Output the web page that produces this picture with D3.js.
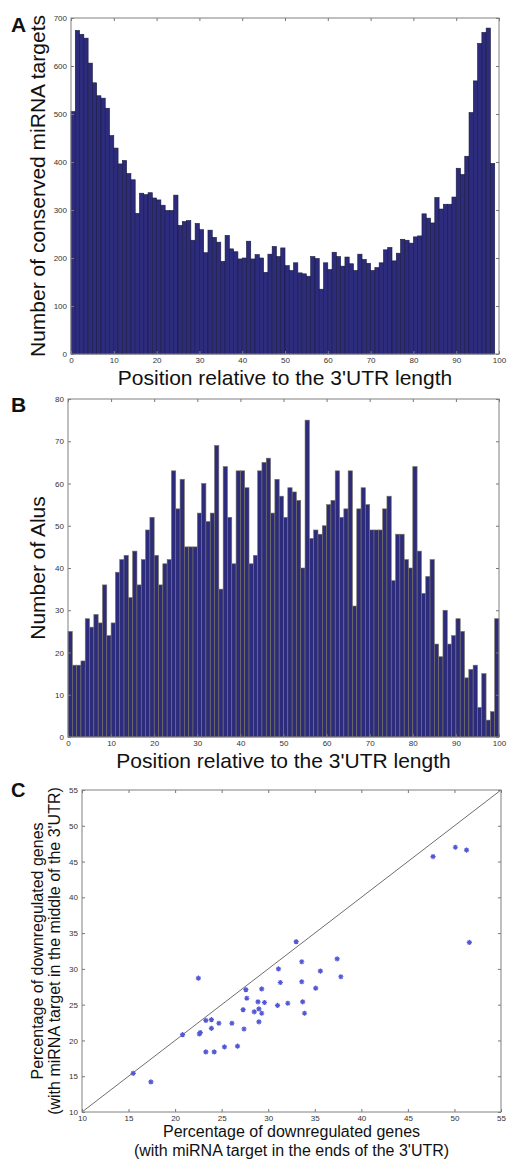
<!DOCTYPE html>
<html>
<head>
<meta charset="utf-8">
<script src="https://cdnjs.cloudflare.com/ajax/libs/d3/7.8.5/d3.min.js"></script>
<style>
  body { margin: 0; background: #fff; }
  svg { display: block; font-family: "Liberation Sans", Arial, sans-serif; }
  .tick text { font-size: 8px; fill: #333; }
  .tick line { stroke: #777; }
</style>
</head>
<body>
<div id="chart"></div>
<script>
// A: conserved miRNA targets per 1% bin of the 3'UTR (last bin is empty)
const aCounts = [
  505, 674, 666, 658, 606, 565, 538, 533, 512, 455,
  429, 396, 403, 376, 363, 293, 335, 332, 336, 325,
  321, 310, 299, 299, 331, 268, 276, 278, 237, 272,
  259, 211, 258, 243, 233, 193, 247, 219, 213, 198,
  200, 235, 198, 207, 200, 170, 208, 224, 203, 221,
  184, 174, 190, 169, 167, 162, 203, 199, 135, 190,
  176, 212, 203, 183, 202, 188, 174, 208, 197, 189,
  174, 180, 190, 217, 222, 194, 210, 239, 237, 231,
  244, 246, 292, 283, 273, 326, 302, 312, 312, 327,
  387, 374, 412, 503, 569, 647, 670, 679, 397
];

// B: Alus per 1% bin
const bCounts = [
  25, 17, 17, 18, 28, 26, 29, 27, 36, 24,
  27, 39, 42, 43, 33, 44, 36, 42, 49, 52,
  43, 36, 41, 42, 63, 54, 61, 45, 45, 45,
  53, 60, 51, 53, 69, 35, 64, 52, 41, 63,
  63, 59, 41, 43, 63, 65, 66, 53, 61, 57,
  52, 59, 58, 56, 40, 75, 47, 49, 48, 50,
  55, 56, 63, 52, 54, 63, 31, 54, 59, 55,
  49, 49, 49, 54, 57, 37, 48, 48, 42, 40,
  64, 44, 34, 38, 42, 22, 19, 30, 22, 24,
  28, 25, 14, 16, 17, 7, 15, 4, 6, 28
];

// C: % downregulated, target at the ends vs in the middle
const cEnds = [
  15.5, 17.4, 20.8, 22.5, 22.6, 22.7, 23.3, 23.3, 23.9, 23.9,
  24.2, 24.7, 25.3, 26.1, 26.7, 27.3, 27.4, 27.6, 27.7, 28.5,
  28.9, 29.0, 29.0, 29.3, 29.3, 29.6, 31.0, 31.1, 31.3, 32.1,
  33.0, 33.6, 33.6, 33.7, 33.9, 35.1, 35.6, 37.4, 37.8, 47.7,
  50.1, 51.3, 51.6
];
const cMiddle = [
  15.4, 14.2, 20.8, 28.7, 20.9, 21.1, 22.8, 18.4, 22.9, 21.7,
  18.4, 22.4, 19.1, 22.4, 19.2, 24.3, 21.6, 27.1, 25.9, 24.0,
  25.4, 24.4, 22.6, 23.8, 27.2, 25.3, 24.9, 30.0, 28.1, 25.2,
  33.8, 31.0, 28.2, 25.4, 23.8, 27.3, 29.7, 31.4, 28.9, 45.7,
  47.0, 46.6, 33.7
];
const diagonal = [10, 55];

const posTicks = d3.range(0, 101, 10);
const aTicks = d3.range(0, 701, 100);
const bTicks = d3.range(0, 81, 10);
const cTicks = d3.range(10, 56, 5);

const posLabel = "Position relative to the 3'UTR length";

const barFill = '#2d2c7c';
const boxColor = '#808080';

const svg = d3.select('#chart').append('svg')
  .attr('width', 507)
  .attr('height', 1163);

svg.append('rect').attr('width', 507).attr('height', 1163).attr('fill', '#fff');

function drawAxes(g, x, y, xTicks, yTicks, box) {
  g.append('g')
    .attr('transform', `translate(0,${box.bottom})`)
    .call(d3.axisBottom(x).tickValues(xTicks).tickSize(-3).tickSizeOuter(0).tickPadding(3));
  g.append('g')
    .attr('transform', `translate(0,${box.top})`)
    .call(d3.axisTop(x).tickValues(xTicks).tickSize(-3).tickSizeOuter(0).tickFormat(''));
  g.append('g')
    .attr('transform', `translate(${box.left},0)`)
    .call(d3.axisLeft(y).tickValues(yTicks).tickSize(-3).tickSizeOuter(0).tickPadding(4));
  g.append('g')
    .attr('transform', `translate(${box.right},0)`)
    .call(d3.axisRight(y).tickValues(yTicks).tickSize(-3).tickSizeOuter(0).tickFormat(''));

  g.selectAll('.domain').remove();

  g.append('rect')
    .attr('x', box.left)
    .attr('y', box.top)
    .attr('width', box.right - box.left)
    .attr('height', box.bottom - box.top)
    .attr('fill', 'none')
    .attr('stroke', boxColor)
    .attr('stroke-width', 1);
}

function drawHist(counts, maxY, yTicks, box, edge) {
  const g = svg.append('g');
  const x = d3.scaleLinear().domain([0, 100]).range([box.left, box.right]);
  const y = d3.scaleLinear().domain([0, maxY]).range([box.bottom, box.top]);

  g.selectAll('.bar')
    .data(counts)
    .enter().append('rect')
    .attr('class', 'bar')
    .attr('x', (d, i) => x(i))
    .attr('width', (d, i) => x(i + 1) - x(i))
    .attr('y', d => y(d))
    .attr('height', d => y(0) - y(d))
    .attr('fill', barFill)
    .attr('stroke', edge)
    .attr('stroke-width', 0.6);

  drawAxes(g, x, y, posTicks, yTicks, box);
  return g;
}

function label(txt, x, y, size, rotate, weight) {
  svg.append('text')
    .text(txt)
    .attr('text-anchor', rotate ? 'middle' : (weight ? 'start' : 'middle'))
    .attr('font-size', size)
    .attr('font-weight', weight || 'normal')
    .attr('fill', '#111')
    .attr('transform', `translate(${x},${y})` + (rotate ? ' rotate(-90)' : ''));
}

// panel A
const aBox = {left: 71, right: 499, top: 18, bottom: 354};
drawHist(aCounts, 700, aTicks, aBox, '#1a1a40');
label('A', 11, 32, 21, false, 'bold');
label('Number of conserved miRNA targets', 45, (aBox.top + aBox.bottom) / 2, 21, true);
label(posLabel, (aBox.left + aBox.right) / 2, 385, 21);

// panel B
const bBox = {left: 68, right: 499, top: 399, bottom: 737};
drawHist(bCounts, 80, bTicks, bBox, '#77735c');
label('B', 11, 412, 21, false, 'bold');
label('Number of Alus', 45, (bBox.top + bBox.bottom) / 2, 21, true);
label(posLabel, (bBox.left + bBox.right) / 2, 768, 21);

// panel C
const cBox = {left: 82, right: 501, top: 790, bottom: 1112};
const cx = d3.scaleLinear().domain([10, 55]).range([cBox.left, cBox.right]);
const cy = d3.scaleLinear().domain([10, 55]).range([cBox.bottom, cBox.top]);
const gc = svg.append('g');

gc.append('path')
  .datum(diagonal)
  .attr('d', d3.line().x(d => cx(d)).y(d => cy(d)))
  .attr('stroke', '#6e6e6e')
  .attr('stroke-width', 1)
  .attr('fill', 'none');

// matlab style '*' marker
const r = 2.6;
const star = `M${-r},0L${r},0M0,${-r}L0,${r}` +
  `M${-r * 0.7},${-r * 0.7}L${r * 0.7},${r * 0.7}M${-r * 0.7},${r * 0.7}L${r * 0.7},${-r * 0.7}`;

gc.selectAll('.pt')
  .data(cEnds)
  .enter().append('path')
  .attr('class', 'pt')
  .attr('d', star)
  .attr('transform', (d, i) => `translate(${cx(d)},${cy(cMiddle[i])})`)
  .attr('stroke', '#5257d4')
  .attr('stroke-width', 1.2)
  .attr('fill', 'none');

drawAxes(gc, cx, cy, cTicks, cTicks, cBox);

label('C', 11, 797, 20, false, 'bold');
label('Percentage of downregulated genes', 43, (cBox.top + cBox.bottom) / 2, 16, true);
label("(with miRNA target in the middle of the 3'UTR)", 60, (cBox.top + cBox.bottom) / 2, 16, true);
label('Percentage of downregulated genes', (cBox.left + cBox.right) / 2, 1137, 16);
label("(with miRNA target in the ends of the 3'UTR)", (cBox.left + cBox.right) / 2, 1156, 16);
</script>
</body>
</html>
